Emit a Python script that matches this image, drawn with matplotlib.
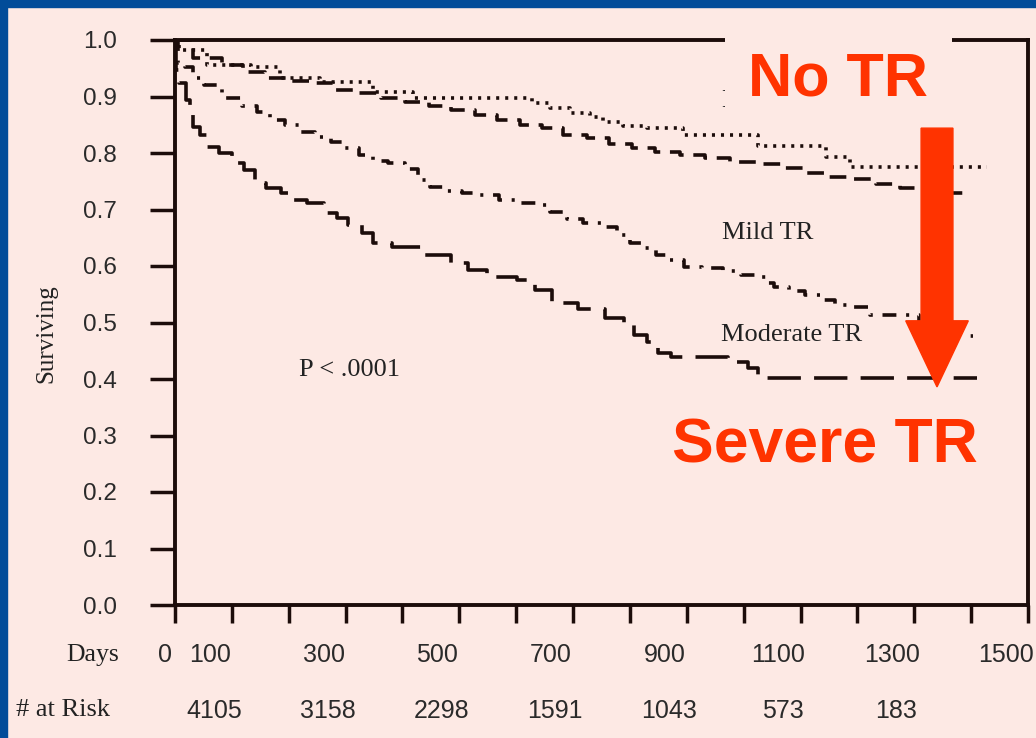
import matplotlib
matplotlib.use("Agg")
import matplotlib.pyplot as plt
from matplotlib.patches import Rectangle, FancyArrow
from matplotlib.transforms import ScaledTranslation, blended_transform_factory

# Kaplan-Meier curves (days, fraction surviving)
no_tr_days = [0, 14, 97, 172, 197, 313, 383, 454, 612, 642, 677, 712, 747, 759, 818, 841, 946, 1104, 1187, 1187, 1428]
no_tr_surv = [1.0, 0.982, 0.956, 0.952, 0.933, 0.926, 0.908, 0.897, 0.897, 0.888, 0.879, 0.870, 0.864, 0.855, 0.847, 0.844, 0.832, 0.812, 0.793, 0.775, 0.775]

mild_days = [0, 62, 102, 137, 179, 220, 255, 302, 343, 383, 426, 466, 506, 549, 584, 630, 659, 707, 742, 783, 823,
             865, 911, 953, 999, 1046, 1087, 1129, 1164, 1210, 1257, 1293, 1398]
mild_surv = [1.0, 0.968, 0.956, 0.943, 0.933, 0.927, 0.924, 0.912, 0.906, 0.897, 0.890, 0.883, 0.876, 0.867, 0.858, 0.850,
             0.844, 0.832, 0.827, 0.816, 0.809, 0.802, 0.796, 0.791, 0.784, 0.781, 0.774, 0.765, 0.758, 0.754, 0.745, 0.738, 0.729]

mod_days = [0, 9, 26, 39, 62, 102, 132, 155, 179, 207, 232, 260, 290, 308, 338, 360, 390, 419, 436, 461, 489, 519, 554,
            584, 630, 642, 677, 700, 735, 765, 788, 812, 835, 858, 883, 906, 946, 981, 1011, 1041, 1041, 1064, 1094,
            1122, 1147, 1175, 1210, 1234, 1287, 1328, 1403]
mod_surv = [1.0, 0.959, 0.952, 0.933, 0.920, 0.897, 0.883, 0.873, 0.858, 0.850, 0.837, 0.828, 0.819, 0.809, 0.796, 0.786,
            0.782, 0.772, 0.752, 0.740, 0.733, 0.729, 0.726, 0.717, 0.712, 0.708, 0.696, 0.683, 0.676, 0.669, 0.655,
            0.641, 0.632, 0.619, 0.611, 0.598, 0.596, 0.591, 0.584, 0.581, 0.570, 0.563, 0.556, 0.549, 0.540, 0.531,
            0.527, 0.513, 0.513, 0.476, 0.476]

sev_days = [0, 3, 12, 26, 26, 39, 49, 62, 91, 109, 132, 149, 172, 202, 214, 250, 273, 295, 313, 343, 355, 408, 466,
            506, 524, 572, 630, 637, 689, 730, 783, 795, 818, 841, 858, 888, 946, 999, 1016, 1034, 1410]
sev_surv = [1.0, 0.947, 0.924, 0.894, 0.871, 0.846, 0.832, 0.811, 0.800, 0.782, 0.770, 0.747, 0.738, 0.729, 0.717,
            0.712, 0.694, 0.685, 0.673, 0.658, 0.641, 0.634, 0.619, 0.605, 0.593, 0.581, 0.575, 0.558, 0.535, 0.524,
            0.508, 0.499, 0.478, 0.465, 0.446, 0.439, 0.439, 0.430, 0.419, 0.402, 0.402]

x_ticks = list(range(0, 1501, 100))
x_labels = ["0", "100", "", "300", "", "500", "", "700", "", "900", "", "1100", "", "1300", "", "1500"]
y_ticks = [0.0, 0.1, 0.2, 0.3, 0.4, 0.5, 0.6, 0.7, 0.8, 0.9, 1.0]

risk_days = [100, 300, 500, 700, 900, 1100, 1300]
risk_counts = ["4105", "3158", "2298", "1591", "1043", "573", "183"]

pink = "#fde9e4"
blue = "#024c99"
ink = "#1c0c0a"
red = "#ff3300"

plt.rcParams["lines.scale_dashes"] = False

fig = plt.figure(figsize=(10.36, 7.38), dpi=100, facecolor=pink)
ax = fig.add_axes([175 / 1036, 133 / 738, 853 / 1036, 565 / 738], facecolor=pink)

# blue slide border (top and left)
fig.patches.append(Rectangle((0, 1 - 7 / 738), 1, 7 / 738, transform=fig.transFigure, color=blue, zorder=0))
fig.patches.append(Rectangle((0, 0), 7 / 1036, 1, transform=fig.transFigure, color=blue, zorder=0))

lw = 2.6
ax.step(no_tr_days, no_tr_surv, where="mid", color=ink, lw=lw, dashes=(2.2, 4.3))
ax.step(mild_days, mild_surv, where="mid", color=ink, lw=lw, dashes=(12, 7))
ax.step(mod_days, mod_surv, where="mid", color=ink, lw=lw, dashes=(10, 7, 2.2, 7))
ax.step(sev_days, sev_surv, where="mid", color=ink, lw=lw, dashes=(24, 9.5))

ax.set_xlim(0, 1500)
ax.set_ylim(0, 1.0)

for s in ax.spines.values():
    s.set_linewidth(2.8)
    s.set_color(ink)

ax.set_yticks(y_ticks)
ax.set_yticklabels([f"{v:.1f}" for v in y_ticks], family="Liberation Sans", fontsize=17.5, color="#2a2a2a")
ax.tick_params(axis="y", length=18, width=2.5, color=ink, pad=24)
ax.set_xticks(x_ticks)
ax.set_xticklabels(x_labels, family="Liberation Sans", fontsize=18, color="#2a2a2a")
ax.tick_params(axis="x", length=13, width=2.5, color=ink, pad=14)
for i, lab in enumerate(ax.get_xticklabels()):
    dx = -10 if i == 0 else -22
    lab.set_transform(lab.get_transform() + ScaledTranslation(dx / 100, 0, fig.dpi_scale_trans))

serif = "Liberation Serif"
fig.text(46 / 1036, 1 - 334 / 738, "Surviving", rotation=90, ha="center", va="center",
         family=serif, fontsize=18, color="#222")
fig.text(93 / 1036, 1 - 655 / 738, "Days", ha="center", va="center", family=serif, fontsize=18.5, color="#222")
fig.text(63 / 1036, 1 - 710 / 738, "# at Risk", ha="center", va="center", family=serif, fontsize=19, color="#222")

tr = blended_transform_factory(ax.transData, fig.transFigure)
shift = ScaledTranslation(-18 / 100, 0, fig.dpi_scale_trans)
for d, n in zip(risk_days, risk_counts):
    ax.text(d, 1 - 711 / 738, n, transform=tr + shift, ha="center", va="center",
            family="Liberation Sans", fontsize=18, color="#2a2a2a")

ax.text(306, 0.416, "P < .0001", ha="center", va="center", family=serif, fontsize=19, color="#222")
ax.text(1043, 0.658, "Mild TR", ha="center", va="center", family=serif, fontsize=19, color="#222")
ax.text(1085, 0.478, "Moderate TR", ha="center", va="center", family=serif, fontsize=19, color="#222")
# first letter of the original curve label, mostly hidden by the pasted box
ax.text(960, 0.881, "N", ha="left", va="baseline", family=serif, fontsize=19, color="#222", zorder=2)

ax.add_patch(Rectangle((967, 0.871), 399, 0.16, facecolor=pink, edgecolor="none", clip_on=False, zorder=4))

ax.add_patch(FancyArrow(1340, 0.844, 0, -0.458, width=56, head_width=110, head_length=0.117,
                        length_includes_head=True, color=red, zorder=5, clip_on=False))
ax.text(1166, 0.901, "No TR", ha="center", va="baseline", family="Liberation Sans", fontweight="bold",
        fontsize=44, color=red, zorder=6)
ax.text(1143, 0.253, "Severe TR", ha="center", va="baseline", family="Liberation Sans", fontweight="bold",
        fontsize=45, color=red, zorder=6)

fig.savefig("out.png", dpi=100, facecolor=pink)
